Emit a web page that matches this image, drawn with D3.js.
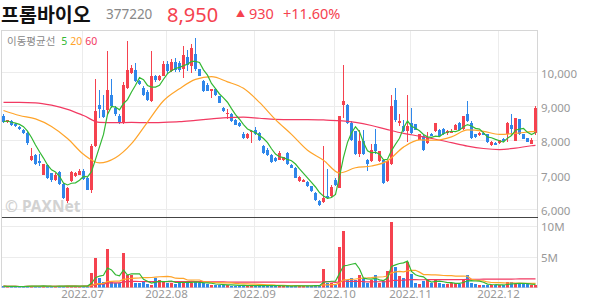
<!DOCTYPE html>
<html>
<head>
<meta charset="utf-8">
<script src="https://cdn.jsdelivr.net/npm/d3@7"></script>
<style>
  body { margin: 0; background: #fff; }
  svg { display: block; font-family: "Noto Sans", "Noto Sans CJK KR", sans-serif; }
</style>
</head>
<body>
<svg id="chart" width="594" height="304"></svg>
<script>
  'use strict';

  // header
  var stockName = '프롬바이오';
  var stockCode = '377220';
  var lastPrice = '8,950';
  var priceChange = '930';
  var changePct = '+11.60%';

  // trading calendar (KRX closed days in range)
  var holidays = ['2022-06-06', '2022-08-15', '2022-09-09', '2022-09-12', '2022-10-03', '2022-10-10'];

  // daily candles: [open, high, low, close]
  var candles = [
    [8720, 8750, 8500, 8540], [8530, 8600, 8500, 8580], [8560, 8580, 8420, 8450], [8480, 8500, 8390, 8420],
    [8400, 8420, 8290, 8320], [8300, 8340, 8170, 8210], [8210, 8230, 7870, 7920], [7430, 7770, 7400, 7540],
    [7580, 7600, 7290, 7320], [7400, 7590, 7250, 7330], [7000, 7320, 6990, 7300], [7290, 7320, 6880, 6910],
    [7040, 7060, 6800, 6830], [6830, 7060, 6810, 7000], [7090, 7120, 6700, 6720], [6730, 6760, 6300, 6330],
    [6230, 6640, 6180, 6620], [6810, 7120, 6790, 7080], [6960, 7080, 6940, 7050], [7000, 7150, 6980, 7100],
    // 2022.07
    [7100, 7150, 6850, 6880], [6900, 6920, 6540, 6560], [6540, 7900, 6480, 7830], [7830, 9780, 7800, 8850],
    [9040, 9470, 8650, 8920], [8870, 9330, 8650, 8690], [8870, 10590, 8750, 9470], [9330, 9770, 8950, 8990],
    [8950, 9000, 8700, 8750], [8700, 8760, 8470, 8520], [8530, 9700, 8470, 9620], [9530, 10900, 9500, 10030],
    [9960, 10200, 9940, 10110], [10040, 10250, 9700, 9720], [9720, 9760, 9600, 9630], [9530, 9580, 9300, 9330],
    [9400, 9450, 9150, 9180], [9150, 10600, 9100, 9860], [9860, 9900, 9700, 9740], [9750, 9900, 9720, 9870],
    [9880, 10300, 9860, 10220],
    // 2022.08
    [10220, 10320, 9950, 10010], [10020, 10360, 9980, 10280], [10280, 10400, 10000, 10050], [10250, 10300, 10000, 10030],
    [10060, 10740, 9820, 10490], [10420, 10640, 10010, 10200], [10150, 10790, 9960, 10690], [10500, 10980, 10010, 10060],
    [10060, 10080, 9860, 9870], [9720, 9760, 9400, 9420], [9620, 9670, 9420, 9430], [9440, 9500, 9230, 9480],
    [9480, 9500, 9300, 9310], [9280, 9300, 9080, 9090], [8925, 8960, 8820, 8850], [8760, 8900, 8620, 8800],
    [8750, 8780, 8540, 8555], [8600, 8620, 8430, 8440], [8510, 8540, 8380, 8410], [8170, 8240, 8050, 8070],
    [8070, 8200, 8050, 8170], [8250, 8290, 7930, 8270],
    // 2022.09
    [8310, 8400, 8150, 8170], [8215, 8250, 7990, 8020], [7830, 7860, 7600, 7630], [7730, 7780, 7540, 7565],
    [7580, 7600, 7350, 7380], [7480, 7500, 7370, 7400], [7440, 7680, 7420, 7630], [7420, 7520, 7400, 7500],
    [7630, 7660, 7280, 7300], [7280, 7300, 7180, 7200], [7200, 7230, 6900, 6910], [6810, 6950, 6790, 6920],
    [6800, 6870, 6780, 6850], [6800, 6820, 6640, 6660], [6660, 6680, 6500, 6520], [6470, 6500, 6230, 6250],
    [6230, 6250, 6100, 6120], [6210, 7830, 6180, 6330], [6380, 7150, 6300, 6330], [6380, 6700, 6350, 6640],
    // 2022.10
    [6850, 6900, 6680, 6700], [6620, 8720, 6600, 8700], [9020, 10180, 8650, 9140], [9020, 9050, 8480, 8510],
    [8510, 8550, 7980, 8020], [8260, 8280, 7560, 7590], [7590, 8300, 7520, 7970], [7990, 8300, 7560, 7590],
    [7440, 7460, 7100, 7300], [7390, 7900, 7370, 7730], [7880, 8330, 7600, 7680], [7400, 7700, 7380, 7680],
    [7440, 7460, 6740, 6760], [6810, 7420, 6790, 7390], [7300, 9330, 7280, 8990], [9160, 9530, 8530, 8600],
    [8510, 8750, 8420, 8550], [8410, 8600, 8240, 8260], [8260, 9330, 7950, 8410],
    // 2022.11
    [8490, 8940, 8180, 8220], [8460, 8480, 8290, 8310], [8020, 8180, 8000, 8170], [8120, 8150, 7680, 7730],
    [7930, 8250, 7900, 8070], [8170, 8200, 8120, 8130], [8260, 8500, 8240, 8490], [8310, 8340, 8100, 8120],
    [8330, 8350, 8150, 8170], [8220, 8300, 8140, 8260], [8210, 8330, 8200, 8270], [8310, 8460, 8290, 8440],
    [8510, 8530, 8300, 8310], [8320, 8720, 8300, 8700], [8750, 9140, 8540, 8560], [8510, 8560, 8050, 8070],
    [8170, 8190, 8080, 8090], [8150, 8240, 8120, 8210], [8220, 8240, 8140, 8150], [8170, 8190, 7920, 7950],
    [7850, 7970, 7830, 7960], [7930, 7950, 7850, 7860],
    // 2022.12
    [7920, 8010, 7900, 8000], [8050, 8070, 7960, 7970], [8170, 8530, 7950, 8510], [8440, 8750, 8150, 8340],
    [7990, 8660, 7980, 8640], [8610, 8620, 8160, 8170], [8170, 8180, 8040, 8050], [8070, 8080, 7940, 7950],
    [7900, 8060, 7880, 8020], [8220, 9000, 8150, 8950]
  ];

  // daily volume, millions of shares
  var volume = [
    0.25, 0.2, 0.18, 0.2, 0.15, 0.2, 0.3, 0.35, 0.25, 0.2, 0.3, 0.25, 0.2, 0.2, 0.25, 0.3, 0.3, 0.25, 0.2, 0.2,
    0.3, 0.35, 2.45, 4.76, 1.53, 0.94, 6.2, 0.94, 0.83, 0.73, 5.6, 2.07, 2.0, 0.83, 0.73, 1.1, 0.6, 0.5, 1.63, 1.26, 0.94,
    0.73, 0.83, 0.6, 1.1, 1.0, 0.8, 0.73, 1.1, 0.7, 0.7, 0.6, 0.5, 0.5, 0.5, 0.45, 0.4, 0.35, 0.35, 0.3, 0.4, 0.35,
    0.3, 0.3, 0.3, 0.4, 0.35, 0.3, 0.25, 0.3, 0.25, 0.3, 0.25, 0.35, 0.3, 0.25, 0.3, 0.35, 0.4, 0.35, 2.98, 0.73, 0.73,
    0.5, 6.5, 9.1, 1.26, 1.53, 1.26, 1.97, 1.64, 0.73, 1.26, 1.97, 0.73, 1.05, 2.77, 10.56, 3.3, 1.85, 1.53, 4.2,
    2.18, 0.73, 0.62, 1.05, 1.37, 0.73, 1.37, 0.73, 0.62, 0.62, 0.73, 0.83, 0.62, 1.37, 2.0, 0.83, 0.6, 0.5, 0.5, 0.5, 0.5, 0.4,
    0.4, 0.4, 0.9, 0.9, 0.62, 0.62, 0.55, 0.55, 0.5, 0.5
  ];

  // 20 / 60 day moving averages, every 4th session
  var maDays = d3.range(0, 133, 4).concat([133]);
  var ma20 = [8865, 8720, 8620, 8400, 8050, 7590, 7340, 7490, 7900, 8530, 9150, 9500, 9770, 9850, 9700, 9510, 9100, 8600,
    8170, 7710, 7420, 7050, 7200, 7250, 7400, 7800, 8010, 8000, 8100, 8300, 8260, 8170, 8200, 8250, 8260];
  var ma60 = [9100, 9100, 9090, 9020, 8900, 8720, 8520, 8510, 8520, 8510, 8520, 8540, 8580, 8620, 8660, 8670, 8640, 8610,
    8600, 8600, 8590, 8570, 8520, 8430, 8310, 8200, 8120, 8030, 7930, 7830, 7760, 7730, 7770, 7840, 7850];

  var priceTicks = [6000, 7000, 8000, 9000, 10000];
  var volTicks = [5, 10];

  var RED = '#f5424f', BLUE = '#2f87ea';
  var MA_COLORS = { 5: '#33b833', 20: '#ffa42a', 60: '#f23a62' };

  var plotL = 1.5, plotR = 537.5, priceTop = 30.5, sepY = 217.5, volBot = 287.5;

  var svg = d3.select('#chart');

  // sessions
  var off = new Set(holidays);
  var fmt = d3.timeFormat('%Y-%m-%d');
  var days = d3.timeDay.range(new Date(2022, 5, 2), new Date(2022, 11, 15))
    .filter(function (d) { var w = d.getDay(); return w !== 0 && w !== 6 && !off.has(fmt(d)); });

  var data = candles.map(function (c, i) {
    return { i: i, date: days[i], o: c[0], h: c[1], l: c[2], c: c[3], v: volume[i] };
  });

  var x = d3.scaleBand().domain(d3.range(data.length)).range([plotL, plotR]);
  function cx(i) { return Math.floor(x(i) + x.bandwidth() / 2) + 0.5; }

  var y = d3.scaleLinear().domain([6000, 10000]).range([209, 71.5]);
  var yv = d3.scaleLinear().domain([0, 10]).range([287.7, 225.7]);

  function movingAvg(vals, n) {
    return vals.map(function (v, i) {
      return d3.mean(vals.slice(Math.max(0, i - n + 1), i + 1));
    });
  }

  // clips
  var defs = svg.append('defs');
  defs.append('clipPath').attr('id', 'clipPrice').append('rect')
    .attr('x', plotL).attr('y', priceTop).attr('width', plotR - plotL).attr('height', sepY - priceTop);
  defs.append('clipPath').attr('id', 'clipVol').append('rect')
    .attr('x', plotL).attr('y', sepY).attr('width', plotR - plotL).attr('height', volBot - sepY);

  // header
  var head = svg.append('g');
  head.append('text').attr('x', 1).attr('y', 21.5)
    .attr('font-family', '"Noto Sans CJK KR", sans-serif')
    .attr('font-size', 19.5).attr('font-weight', 'bold').attr('fill', '#111').text(stockName);
  head.append('text').attr('x', 106).attr('y', 18.5)
    .attr('font-size', 13.5).attr('fill', '#888').text(stockCode);
  head.append('text').attr('x', 167).attr('y', 21.5)
    .attr('font-size', 20).attr('fill', RED).text(lastPrice);
  head.append('text').attr('x', 236).attr('y', 16.5)
    .attr('font-size', 9).attr('fill', RED).text('▲');
  head.append('text').attr('x', 249).attr('y', 18.5)
    .attr('font-size', 14.5).attr('fill', RED).text(priceChange);
  head.append('text').attr('x', 283).attr('y', 18.5)
    .attr('font-size', 14.5).attr('fill', RED).text(changePct);

  // grid
  var grid = svg.append('g').attr('stroke', '#ececec').attr('shape-rendering', 'crispEdges');
  grid.selectAll('line.h').data(priceTicks).join('line')
    .attr('x1', plotL).attr('x2', plotR)
    .attr('y1', function (d) { return Math.round(y(d)) + 0.5; })
    .attr('y2', function (d) { return Math.round(y(d)) + 0.5; });
  grid.selectAll('line.v').data(volTicks).join('line')
    .attr('x1', plotL).attr('x2', plotR)
    .attr('y1', function (d) { return Math.round(yv(d)) + 0.5; })
    .attr('y2', function (d) { return Math.round(yv(d)) + 0.5; });

  var monthStarts = data.filter(function (d, i) {
    return i > 0 && d.date.getMonth() !== data[i - 1].date.getMonth();
  });
  grid.selectAll('line.m').data(monthStarts).join('line')
    .attr('x1', function (d) { return cx(d.i) - 1; })
    .attr('x2', function (d) { return cx(d.i) - 1; })
    .attr('y1', priceTop).attr('y2', volBot);

  // frame
  svg.append('rect').attr('x', plotL).attr('y', priceTop)
    .attr('width', plotR - plotL).attr('height', volBot - priceTop)
    .attr('fill', 'none').attr('stroke', '#d6d6d6').attr('shape-rendering', 'crispEdges');
  svg.append('line').attr('x1', plotL).attr('x2', plotR).attr('y1', sepY).attr('y2', sepY)
    .attr('stroke', '#444').attr('shape-rendering', 'crispEdges');

  // watermark
  svg.append('text').attr('x', 5).attr('y', 212)
    .attr('font-size', 15.5).attr('font-weight', 'bold').attr('fill', '#d2d2d2')
    .text('© PAXNet');

  // legend
  var legend = svg.append('text').attr('x', 7).attr('y', 45).attr('font-size', 10.5);
  legend.append('tspan').attr('fill', '#888').attr('font-family', '"Noto Sans CJK KR", sans-serif').text('이동평균선');
  [5, 20, 60].forEach(function (n) {
    legend.append('tspan').attr('dx', n === 5 ? 6 : 3).attr('fill', MA_COLORS[n]).text(n);
  });

  // candles
  var price = svg.append('g').attr('clip-path', 'url(#clipPrice)');
  function col(d) { return d.c >= d.o ? RED : BLUE; }

  price.append('g').attr('shape-rendering', 'crispEdges')
    .selectAll('line').data(data).join('line')
    .attr('x1', function (d) { return cx(d.i); })
    .attr('x2', function (d) { return cx(d.i); })
    .attr('y1', function (d) { return y(d.h); })
    .attr('y2', function (d) { return y(d.l); })
    .attr('stroke', col);

  price.append('g').attr('shape-rendering', 'crispEdges')
    .selectAll('rect').data(data).join('rect')
    .attr('x', function (d) { return cx(d.i) - 1.5; })
    .attr('width', 3)
    .attr('y', function (d) { return y(Math.max(d.o, d.c)); })
    .attr('height', function (d) { return Math.max(1, Math.abs(y(d.o) - y(d.c))); })
    .attr('fill', col);

  // price moving averages
  var closes = data.map(function (d) { return d.c; });
  var ma5 = movingAvg(closes, 5);
  var line = d3.line()
    .x(function (p) { return cx(p[0]); })
    .y(function (p) { return y(p[1]); });

  price.append('path')
    .attr('d', line.curve(d3.curveMonotoneX)(maDays.map(function (d, k) { return [d, ma60[k]]; })))
    .attr('fill', 'none').attr('stroke', MA_COLORS[60]).attr('stroke-width', 1.2);
  price.append('path')
    .attr('d', line.curve(d3.curveMonotoneX)(maDays.map(function (d, k) { return [d, ma20[k]]; })))
    .attr('fill', 'none').attr('stroke', MA_COLORS[20]).attr('stroke-width', 1.2);
  price.append('path')
    .attr('d', line.curve(d3.curveLinear)(ma5.map(function (v, i) { return [i, v]; })))
    .attr('fill', 'none').attr('stroke', MA_COLORS[5]).attr('stroke-width', 1.2);

  // volume
  var vol = svg.append('g').attr('clip-path', 'url(#clipVol)');
  vol.append('g').attr('shape-rendering', 'crispEdges')
    .selectAll('rect').data(data).join('rect')
    .attr('x', function (d) { return cx(d.i) - 1.5; })
    .attr('width', 3)
    .attr('y', function (d) { return yv(d.v); })
    .attr('height', function (d) { return Math.max(0, yv(0) - yv(d.v)); })
    .attr('fill', col);

  var vline = d3.line()
    .x(function (p, i) { return cx(i); })
    .y(function (p) { return yv(p); });
  [60, 20, 5].forEach(function (n) {
    vol.append('path')
      .attr('d', vline(movingAvg(volume, n)))
      .attr('fill', 'none').attr('stroke', MA_COLORS[n]).attr('stroke-width', 1.2);
  });

  // axes labels
  var axisText = svg.append('g').attr('font-size', 11.5).attr('fill', '#999');
  axisText.selectAll('text.p').data(priceTicks).join('text')
    .attr('x', 541).attr('y', function (d) { return y(d) + 6; })
    .text(d3.format(','));
  axisText.selectAll('text.v').data(volTicks).join('text')
    .attr('x', 541).attr('y', function (d) { return yv(d) + 5; })
    .text(function (d) { return d + 'M'; });

  var monthFmt = d3.timeFormat('%Y.%m');
  axisText.selectAll('text.m').data(monthStarts).join('text')
    .attr('x', function (d) { return cx(d.i) - 1; })
    .attr('y', 298)
    .attr('text-anchor', 'middle')
    .text(function (d) { return monthFmt(d.date); });
</script>
</body>
</html>
